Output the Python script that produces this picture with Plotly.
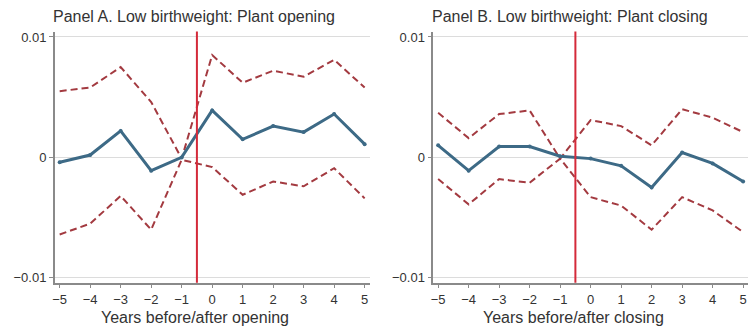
import plotly.graph_objects as go

years = [-5, -4, -3, -2, -1, 0, 1, 2, 3, 4, 5]

open_est = [-0.0004, 0.0002, 0.0022, -0.0011, 0.0000, 0.0039, 0.0015, 0.0026, 0.0021, 0.0036, 0.0011]
open_hi = [0.0055, 0.0058, 0.0075, 0.0046, -0.0001, 0.0085, 0.0062, 0.0072, 0.0067, 0.0081, 0.0058]
open_lo = [-0.0064, -0.0055, -0.0032, -0.0060, -0.0002, -0.0008, -0.0031, -0.0020, -0.0024, -0.0009, -0.0034]

close_est = [0.0010, -0.0011, 0.0009, 0.0009, 0.0001, -0.0001, -0.0007, -0.0025, 0.0004, -0.0005, -0.0020]
close_hi = [0.0037, 0.0016, 0.0036, 0.0039, -0.0001, 0.0031, 0.0026, 0.0010, 0.0040, 0.0033, 0.0021]
close_lo = [-0.0018, -0.0039, -0.0018, -0.0021, -0.0001, -0.0033, -0.0040, -0.0060, -0.0033, -0.0044, -0.0062]

titles = ["Panel A. Low birthweight: Plant opening", "Panel B. Low birthweight: Plant closing"]
xtitles = ["Years before/after opening", "Years before/after closing"]
xticks = ["\u22125", "\u22124", "\u22123", "\u22122", "\u22121", "0", "1", "2", "3", "4", "5"]
yticks_v = [-0.01, 0, 0.01]
yticks_t = ["\u22120.01", "0", "0.01"]

BLUE = "#3d6a86"
DASH = "#a33a40"
RED = "#d42a3a"
FONT = "Liberation Sans, Arial, sans-serif"

W, H = 750, 329
fig = go.Figure()

panels = [(open_est, open_hi, open_lo), (close_est, close_hi, close_lo)]
xdoms = [(52 / W, 368 / W), (432 / W, 748 / W)]
ydom = (1 - 285 / H, 1 - 30 / H)

for i, (est, hi, lo) in enumerate(panels):
    xa = "x" if i == 0 else "x2"
    ya = "y" if i == 0 else "y2"
    for ser in (hi, lo):
        fig.add_trace(go.Scatter(x=years, y=ser, mode="lines", xaxis=xa, yaxis=ya,
                                 line=dict(color=DASH, width=2, dash="7px,4px"),
                                 showlegend=False, hoverinfo="skip"))
    fig.add_trace(go.Scatter(x=years, y=est, mode="lines+markers", xaxis=xa, yaxis=ya,
                             line=dict(color=BLUE, width=3), marker=dict(color=BLUE, size=4),
                             showlegend=False))
    fig.add_shape(type="line", xref=xa, yref=ya + " domain", x0=-0.5, x1=-0.5, y0=0, y1=1,
                  line=dict(color=RED, width=2))
    fig.add_annotation(text=titles[i], xref="paper", yref="paper",
                       x=(192 if i == 0 else 569) / W, y=1 - 15 / H,
                       xanchor="center", yanchor="middle", showarrow=False,
                       font=dict(family=FONT, size=16, color="#333333"))
    fig.add_annotation(text=xtitles[i], xref="paper", yref="paper",
                       x=(193 if i == 0 else 573) / W, y=1 - 320 / H,
                       xanchor="center", yanchor="middle", showarrow=False,
                       font=dict(family=FONT, size=16, color="#333333"))

axis_common_x = dict(range=[-5.16, 5.16], tickvals=years, ticktext=xticks, showgrid=False,
                     zeroline=False, showline=True, linecolor="#8a8a8a", linewidth=1.5,
                     ticks="outside", ticklen=4, tickcolor="#8a8a8a",
                     tickfont=dict(family=FONT, size=13, color="#333333"))
axis_common_y = dict(range=[-0.0104, 0.01045], tickvals=yticks_v, ticktext=yticks_t,
                     showgrid=True, gridcolor="#dcdcdc", gridwidth=1, zeroline=False,
                     showline=True, linecolor="#8a8a8a", linewidth=1.5,
                     ticks="outside", ticklen=4, tickcolor="#8a8a8a",
                     tickfont=dict(family=FONT, size=13, color="#333333"), domain=list(ydom))

fig.update_layout(
    width=W, height=H, margin=dict(l=0, r=0, t=0, b=0),
    paper_bgcolor="white", plot_bgcolor="white",
    xaxis=dict(domain=list(xdoms[0]), anchor="y", **axis_common_x),
    yaxis=dict(anchor="x", **axis_common_y),
    xaxis2=dict(domain=list(xdoms[1]), anchor="y2", **axis_common_x),
    yaxis2=dict(anchor="x2", **axis_common_y),
)

fig.write_html("out.html")
